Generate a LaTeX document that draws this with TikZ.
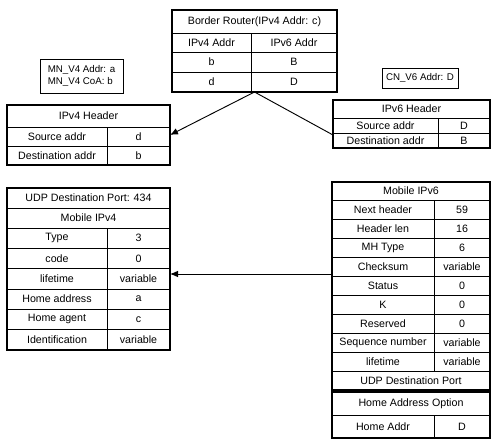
\documentclass[tikz,border=0pt]{standalone}
\usepackage{fontspec}
\setmainfont{Liberation Sans}
\usepackage{tikz}
\usetikzlibrary{arrows.meta}

\begin{document}
\begin{tikzpicture}[x=0.75pt,y=-0.75pt,font=\fontsize{8}{9.5}\selectfont,cell/.style n args={2}{draw,line width=0.5pt,anchor=north west,inner sep=0pt,outer sep=0pt,minimum width=#1*0.75pt,minimum height=#2*0.75pt},frame/.style n args={2}{draw,line width=1.3pt,anchor=north west,inner sep=0pt,outer sep=0pt,minimum width=#1*0.75pt,minimum height=#2*0.75pt},note/.style={draw,line width=0.7pt,anchor=north west,inner sep=0pt,outer sep=0pt,align=left,font=\fontsize{7.3}{9}\selectfont},link/.style={line width=0.7pt},linkarrow/.style={line width=0.7pt,-{Latex[length=6pt,width=5pt]}}]
\useasboundingbox (0,0) rectangle (492,442);
% border router
\node[cell={165}{23}](br-t) at(172,10) {Border Router(IPv4 Addr: c)};
\foreach \y/\h/\1/\2 [count=\i] in %
{33/19/IPv4 Addr/IPv6 Addr,52/20/b/B,72/20/d/D} {
   \node[cell={79}{\h}](br-a\i) at(172,\y) {\1};
   \node[cell={86}{\h}](br-b\i) at(251,\y) {\2};
}
\node[frame={165}{82}](br) at(172,10) {};
% addresses
\node[note,minimum width=83*0.75pt,minimum height=34*0.75pt](mn) at(40,59) {MN\_V4 Addr: a\\MN\_V4 CoA: b};
\node[note,minimum width=76*0.75pt,minimum height=20*0.75pt](cn) at(382,68) {CN\_V6 Addr: D};
% ipv4 header
\node[cell={163}{22}](v4h-t) at(7,105) {IPv4 Header};
\foreach \y/\1/\2 [count=\i] in %
{127/Source addr/d,146/Destination addr/b} {
   \node[cell={100}{19}](v4h-a\i) at(7,\y) {\1};
   \node[cell={63}{19}](v4h-b\i) at(107,\y) {\2};
}
\node[frame={163}{60}](v4h) at(7,105) {};
% ipv6 header
\node[cell={157}{18}](v6h-t) at(333,100) {IPv6 Header};
\foreach \y/\1/\2 [count=\i] in %
{118/Source addr/D,133/Destination addr/B} {
   \node[cell={105}{15}](v6h-a\i) at(333,\y) {\1};
   \node[cell={52}{15}](v6h-b\i) at(438,\y) {\2};
}
\node[frame={157}{48}](v6h) at(333,100) {};
\coordinate(v6in) at(333,135);
% mobile ipv4
\node[cell={163}{20}](mip4-p) at(7,188) {UDP Destination Port: 434};
\node[cell={163}{20}](mip4-t) at(7,208) {Mobile IPv4};
\foreach \1/\2 [count=\i] in %
{Type/3,code/0,lifetime/variable,Home address/a,Home agent/c,Identification/variable} {
   \node[cell={100}{20.3}](mip4-a\i) at(7,{228+(\i-1)*20.3}) {\1};
   \node[cell={63}{20.3}](mip4-b\i) at(107,{228+(\i-1)*20.3}) {\2};
}
\node[frame={163}{162}](mip4) at(7,188) {};
% mobile ipv6
\node[cell={158}{18}](mip6-t) at(332,182) {Mobile IPv6};
\foreach \1/\2 [count=\i] in %
{Next header/59,Header len/16,MH Type/6,Checksum/variable,Status/0,K/0,Reserved/0,Sequence number/variable,lifetime/variable} {
   \node[cell={102}{19}](mip6-a\i) at(332,{200+(\i-1)*19}) {\1};
   \node[cell={56}{19}](mip6-b\i) at(434,{200+(\i-1)*19}) {\2};
}
\node[cell={158}{19}](mip6-p) at(332,371) {UDP Destination Port};
\node[frame={158}{208}](mip6) at(332,182) {};
\coordinate(v6out) at(332,274);
% home address option
\node[cell={158}{23}](hao-t) at(332,392) {Home Address Option};
\node[cell={102}{23}](hao-a1) at(332,415) {Home Addr};
\node[cell={56}{23}](hao-b1) at(434,415) {D};
\node[frame={158}{46}](hao) at(332,392) {};
% connectors
\draw[linkarrow] (br.south) -- (v4h.east);
\draw[link] (br.south) -- (v6in);
\draw[linkarrow] (v6out) -- (v6out -| mip4.east);
\end{tikzpicture}
\end{document}
